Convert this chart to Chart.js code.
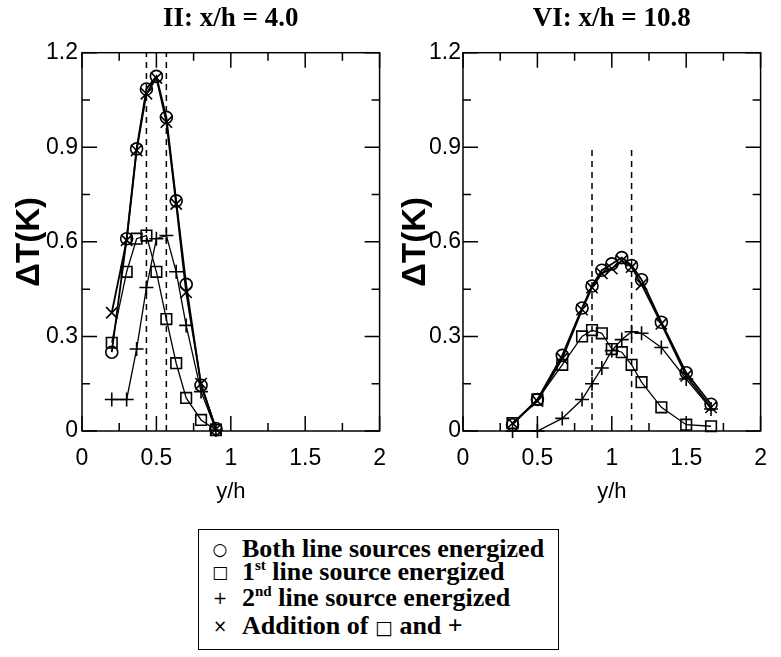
<!DOCTYPE html>
<html>
<head>
<meta charset="utf-8">
<script src="https://cdn.jsdelivr.net/npm/chart.js@4.4.0/dist/chart.umd.min.js"></script>
<style>
body{margin:0;background:#fff;width:781px;height:657px;position:relative;overflow:hidden}
#wrapL{position:absolute;left:0;top:0;width:400px;height:510px}
#wrapR{position:absolute;left:390px;top:0;width:391px;height:510px}
#key{position:absolute;left:198px;top:529px;width:361px;height:121px;border:1.5px solid #000;box-sizing:border-box;font:bold 26px "Liberation Serif",serif;color:#000}
.row{position:absolute;left:0;height:26px;line-height:26px;white-space:nowrap}
.sym{display:inline-block;width:24px;text-align:center;margin-left:9px;margin-right:10px;font:normal 17px "DejaVu Sans",sans-serif;vertical-align:2px}
.in{font:normal 19px "DejaVu Sans",sans-serif}
sup{font-size:15px;vertical-align:10px;line-height:0}
</style>
</head>
<body>
<div id="wrapL"><canvas id="left"></canvas></div>
<div id="wrapR"><canvas id="right"></canvas></div>
<div id="key">
  <div class="row" style="top:6px"><span class="sym">○</span>Both line sources energized</div>
  <div class="row" style="top:29px"><span class="sym">□</span>1<sup>st</sup> line source energized</div>
  <div class="row" style="top:55px"><span class="sym">+</span>2<sup>nd</sup> line source energized</div>
  <div class="row" style="top:83px"><span class="sym">×</span>Addition of <span class="in">□</span> and +</div>
</div>
<script>
// station II, x/h = 4.0
let xLeft = [0.2, 0.3, 0.367, 0.433, 0.5, 0.567, 0.633, 0.7, 0.8, 0.9];
let bothLeft = [0.25, 0.61, 0.895, 1.085, 1.125, 0.995, 0.73, 0.465, 0.145, 0.008];
let firstLeft = [0.28, 0.505, 0.61, 0.62, 0.505, 0.355, 0.215, 0.105, 0.035, 0.003];
let secondLeft = [0.10, 0.10, 0.26, 0.455, 0.61, 0.62, 0.505, 0.335, 0.125, 0.003];
let addLeft = [0.375, 0.605, 0.89, 1.07, 1.12, 0.98, 0.72, 0.44, 0.15, 0.006];
let dashLeft = [0.433, 0.567];

// station VI, x/h = 10.8
let xRight = [0.333, 0.5, 0.667, 0.8, 0.867, 0.933, 1.0, 1.067, 1.133, 1.2, 1.333, 1.5, 1.667];
let bothRight = [0.02, 0.10, 0.24, 0.39, 0.46, 0.51, 0.53, 0.55, 0.525, 0.48, 0.345, 0.185, 0.085];
let firstRight = [0.025, 0.10, 0.21, 0.30, 0.32, 0.31, 0.26, 0.25, 0.21, 0.155, 0.075, 0.02, 0.015];
let secondRight = [0.0, 0.0, 0.04, 0.10, 0.15, 0.20, 0.255, 0.29, 0.315, 0.31, 0.265, 0.165, 0.07];
let addRight = [0.025, 0.095, 0.23, 0.385, 0.455, 0.50, 0.515, 0.54, 0.52, 0.465, 0.34, 0.175, 0.075];
let dashRight = [0.867, 1.133];
let dashRightTop = 0.9;

let xTicks = [0, 0.5, 1, 1.5, 2];
let xTickLabels = ["0", "0.5", "1", "1.5", "2"];
let xMinor = [0.25, 0.75, 1.25, 1.75];
let yTicks = [0, 0.3, 0.6, 0.9, 1.2];
let yTickLabels = ["0", "0.3", "0.6", "0.9", "1.2"];
let yMinor = [0.15, 0.45, 0.75, 1.05];

/**
 * draws the box round the plot and the inward ticks on all four sides
 */
const frameTicks = {
    id: "frameTicks",
    afterDatasetsDraw(chart){
        const {ctx, chartArea: a, scales: {x, y}} = chart;
        ctx.save();
        ctx.strokeStyle = "#000";
        ctx.lineWidth = 1.5;
        ctx.beginPath();
        xTicks.concat(xMinor).forEach(v =>{
            let px = x.getPixelForValue(v);
            let len = xTicks.includes(v) ? 15 : 8;
            ctx.moveTo(px, a.bottom); ctx.lineTo(px, a.bottom - len);
            ctx.moveTo(px, a.top); ctx.lineTo(px, a.top + len);
        });
        yTicks.concat(yMinor).forEach(v =>{
            let py = y.getPixelForValue(v);
            let len = yTicks.includes(v) ? 15 : 8;
            ctx.moveTo(a.left, py); ctx.lineTo(a.left + len, py);
            ctx.moveTo(a.right, py); ctx.lineTo(a.right - len, py);
        });
        ctx.stroke();
        ctx.strokeRect(a.left, a.top, a.width, a.height);
        ctx.restore();
    }
};

function series(xs, ys, style, radius, width){
    return {
        data: xs.map((v, i) => ({x: v, y: ys[i]})),
        borderColor: "#000",
        borderWidth: width,
        pointStyle: style,
        pointRadius: radius,
        pointBorderWidth: 1.6,
        pointBorderColor: "#000",
        pointBackgroundColor: "rgba(0,0,0,0)",
        tension: 0,
        clip: false
    };
}

function dashLine(xv, top){
    return {
        data: [{x: xv, y: 0}, {x: xv, y: top}],
        borderColor: "#000",
        borderWidth: 1.5,
        borderDash: [6, 5],
        pointRadius: 0,
        clip: false
    };
}

function makeChart(id, title, xs, both, first, second, add, dashes, dashTop, axisW, titlePad, padRight){
    let datasets = dashes.map(d => dashLine(d, dashTop));
    datasets.push(series(xs, second, "cross", 7, 1.3));
    datasets.push(series(xs, first, "rect", 7.5, 1.3));
    datasets.push(series(xs, add, "crossRot", 8, 1.8));
    datasets.push(series(xs, both, "circle", 6, 1.8));
    return new Chart(document.getElementById(id), {
        type: "line",
        data: {datasets: datasets},
        plugins: [frameTicks],
        options: {
            responsive: true,
            maintainAspectRatio: false,
            animation: false,
            layout: {padding: {left: 0, right: padRight, top: 0, bottom: 0}},
            plugins: {
                legend: {display: false},
                tooltip: {enabled: false},
                title: {
                    display: true,
                    text: title,
                    fullSize: false,
                    color: "#000",
                    font: {family: "Liberation Serif", size: 27, weight: "bold", lineHeight: 1.1},
                    padding: {top: 4, bottom: 19}
                }
            },
            scales: {
                x: {
                    type: "linear",
                    min: 0, max: 2,
                    grid: {display: false, drawTicks: false},
                    border: {display: false},
                    afterBuildTicks: s =>{ s.ticks = xTicks.map(v => ({value: v})); },
                    afterFit: s =>{ s.height = 79; },
                    ticks: {
                        color: "#000",
                        padding: 14,
                        maxRotation: 0,
                        font: {family: "Liberation Sans", size: 23},
                        callback: (v, i) => xTickLabels[i]
                    },
                    title: {
                        display: true,
                        text: "y/h",
                        color: "#000",
                        font: {family: "Liberation Sans", size: 22},
                        padding: {top: 0, bottom: 5}
                    }
                },
                y: {
                    type: "linear",
                    min: 0, max: 1.2,
                    grid: {display: false, drawTicks: false},
                    border: {display: false},
                    afterBuildTicks: s =>{ s.ticks = yTicks.map(v => ({value: v})); },
                    afterFit: s =>{ s.width = axisW; },
                    ticks: {
                        color: "#000",
                        padding: id == "left" ? 4 : 2,
                        font: {family: "Liberation Sans", size: 23},
                        callback: (v, i) => yTickLabels[i]
                    },
                    title: {
                        display: true,
                        text: "ΔT(K)",
                        color: "#000",
                        font: {family: "Liberation Sans", size: 33, weight: "bold", lineHeight: 1.1},
                        padding: {top: titlePad, bottom: 0}
                    }
                }
            }
        }
    });
}

makeChart("left", "II: x/h = 4.0", xLeft, bothLeft, firstLeft, secondLeft, addLeft, dashLeft, 1.2, 82, 12, 14);
makeChart("right", "VI: x/h = 10.8", xRight, bothRight, firstRight, secondRight, addRight, dashRight, dashRightTop, 73, 8, 15);
</script>
</body>
</html>
